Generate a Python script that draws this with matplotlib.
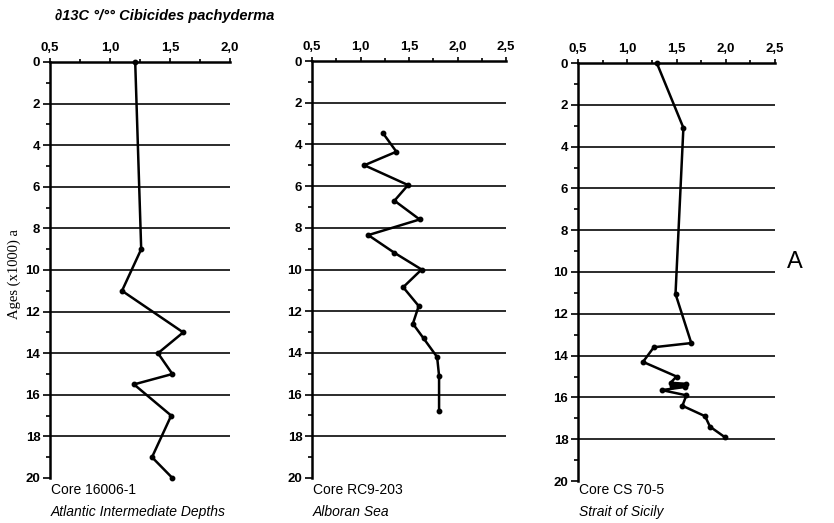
import matplotlib
matplotlib.use("Agg")
import matplotlib.pyplot as plt
from matplotlib.ticker import MultipleLocator, FuncFormatter

# ---- data ----
core1_age = [0, 9, 11, 13, 14, 15, 15.5, 17, 19, 20]
core1_d13c = [1.21, 1.26, 1.10, 1.61, 1.40, 1.52, 1.20, 1.51, 1.35, 1.52]

core2_age = [3.45, 4.35, 5.0, 5.95, 6.7, 7.6, 8.35, 9.2, 10.0, 10.85, 11.75, 12.6, 13.3, 14.2, 15.1, 16.8]
core2_d13c = [1.23, 1.37, 1.04, 1.49, 1.35, 1.61, 1.08, 1.35, 1.63, 1.44, 1.60, 1.54, 1.65, 1.79, 1.81, 1.81]

core3_age = [0, 3.1, 11.05, 13.4, 13.6, 14.3, 15.0, 15.3, 15.35, 15.45, 15.5, 15.65, 15.9, 16.4, 16.9, 17.4, 17.9]
core3_d13c = [1.30, 1.57, 1.49, 1.65, 1.27, 1.16, 1.50, 1.44, 1.60, 1.45, 1.59, 1.35, 1.60, 1.56, 1.79, 1.84, 1.99]

core_names = ["Core 16006-1", "Core RC9-203", "Core CS 70-5"]
core_places = ["Atlantic Intermediate Depths", "Alboran Sea", "Strait of Sicily"]
xlims = [(0.5, 2.0), (0.5, 2.5), (0.5, 2.5)]
grid_ages = [2, 4, 6, 8, 10, 12, 14, 16, 18]

title = "\u220213C \u00b0/\u00b0\u00b0 Cibicides pachyderma"
ylabel = "Ages (x1000) a"
panel_letter = "A"

# ---- layout ----
W, H = 834, 523
fig = plt.figure(figsize=(W / 100, H / 100), dpi=100)
fig.patch.set_facecolor("white")

def box(x0, x1, ytop, ybot):
    return [x0 / W, 1 - ybot / H, (x1 - x0) / W, (ybot - ytop) / H]

rects = [box(50, 230, 62, 478), box(312, 506, 61, 478), box(578, 775, 63, 481)]
ages = [core1_age, core2_age, core3_age]
vals = [core1_d13c, core2_d13c, core3_d13c]

comma = FuncFormatter(lambda v, p: ("%.1f" % v).replace(".", ","))

for i, r in enumerate(rects):
    ax = fig.add_axes(r)
    ax.set_xlim(*xlims[i])
    ax.set_ylim(20, 0)
    for a in grid_ages:
        ax.axhline(a, color="#1a1a1a", lw=1.3, zorder=1)
    ax.plot(vals[i], ages[i], color="black", lw=1.8, marker="o", ms=3.2,
            zorder=3, clip_on=False)
    ax.spines["right"].set_visible(False)
    ax.spines["bottom"].set_visible(False)
    for s in ("left", "top"):
        ax.spines[s].set_linewidth(1.8)
    ax.xaxis.tick_top()
    ax.xaxis.set_major_locator(MultipleLocator(0.5))
    ax.xaxis.set_minor_locator(MultipleLocator(0.25))
    ax.xaxis.set_major_formatter(comma)
    ax.yaxis.set_major_locator(MultipleLocator(2))
    ax.yaxis.set_minor_locator(MultipleLocator(1))
    ax.tick_params(axis="x", which="major", direction="out", length=3, width=1.2, pad=3)
    ax.tick_params(axis="x", which="minor", direction="out", length=2, width=1.2)
    ax.tick_params(axis="y", which="major", direction="out", length=5, width=1.2, pad=2)
    ax.tick_params(axis="y", which="minor", direction="out", length=3, width=1.2)
    for lab in ax.get_xticklabels() + ax.get_yticklabels():
        lab.set_fontfamily("Liberation Sans")
        lab.set_fontweight("bold")
        lab.set_fontsize(9.5)
    x0 = r[0] + 1 / W
    fig.text(x0, 1 - 490 / H, core_names[i], family="Liberation Sans",
             fontsize=10, ha="left", va="center")
    fig.text(x0, 1 - 512 / H, core_places[i], family="Liberation Sans",
             fontsize=10, style="italic", ha="left", va="center")

fig.text(55 / W, 1 - 16 / H, title, family=["Liberation Sans", "DejaVu Sans"],
         fontsize=10.5, weight="bold", style="italic", ha="left", va="center")
fig.text(14 / W, 1 - 274 / H, ylabel, family="Liberation Serif", fontsize=10.5,
         rotation=90, ha="center", va="center")
fig.text(795 / W, 1 - 262 / H, panel_letter, family="Liberation Sans",
         fontsize=17, ha="center", va="center")

fig.savefig("out.png", dpi=100)
